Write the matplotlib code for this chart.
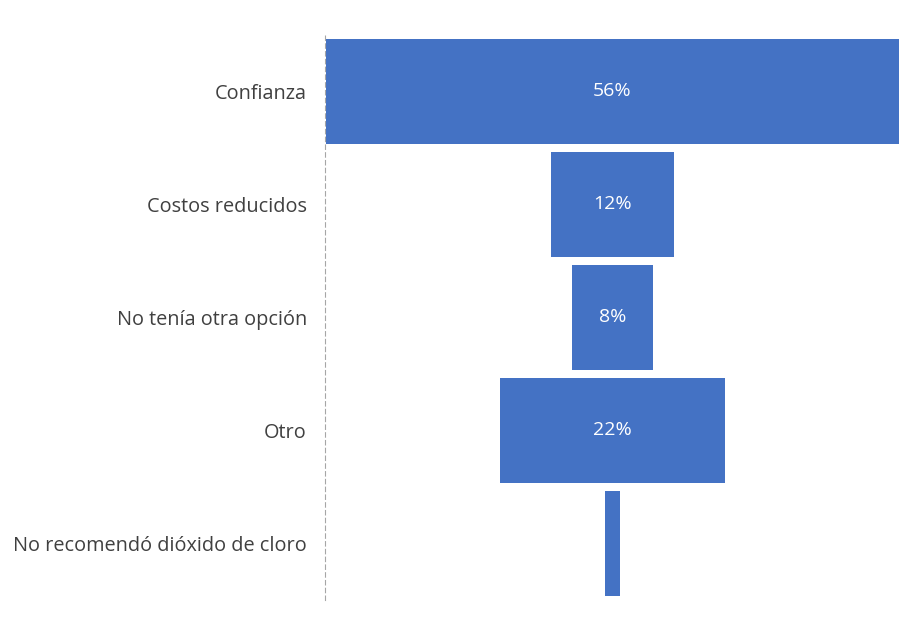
import matplotlib
matplotlib.use("Agg")
import matplotlib.pyplot as plt

categories = ["Confianza", "Costos reducidos", "No tenía otra opción", "Otro", "No recomendó dióxido de cloro"]
values = [56, 12, 8, 22, 1.5]
labels = ["56%", "12%", "8%", "22%", ""]

plt.rcParams['font.family'] = ['Open Sans', 'DejaVu Sans']

fig = plt.figure(figsize=(9.04, 6.17), dpi=100)
ax = fig.add_axes([0.3595, 0.0276, 0.636, 0.9157])

color = "#4472C4"
ypos = list(range(len(categories)))
lefts = [-v / 2 for v in values]
bars = ax.barh(ypos, values, left=lefts, height=0.93, color=color)
for b, lab in zip(bars, labels):
    if lab:
        ax.text(b.get_x() + b.get_width() / 2, b.get_y() + b.get_height() / 2, lab,
                ha="center", va="center", color="white", fontsize=14)

ax.set_xlim(-28.1, 28.1)
ax.set_ylim(len(categories) - 0.5, -0.5)
ax.set_yticks(ypos)
ax.set_yticklabels(categories, fontsize=14.3, color="#404040")
ax.tick_params(axis="y", length=0, pad=13)
ax.set_xticks([])
for s in ["top", "right", "bottom"]:
    ax.spines[s].set_visible(False)
ax.spines["left"].set_color("#A6A6A6")
ax.spines["left"].set_linestyle((0, (4, 3)))
ax.spines["left"].set_linewidth(0.8)

fig.savefig("out.png", dpi=100, facecolor="white")
